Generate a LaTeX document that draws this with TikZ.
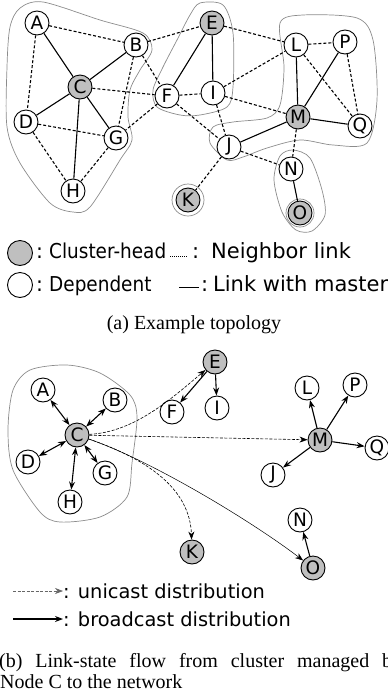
\documentclass[tikz,border=0pt]{standalone}
\usepackage{fontspec}
\setmainfont{Liberation Serif}
\setsansfont{DejaVu Sans}
\usetikzlibrary{arrows.meta}
\begin{document}
\begin{tikzpicture}[x=1pt,y=-1pt,
 nd/.style={circle,draw,line width=0.9pt,minimum size=24pt,inner sep=0pt,fill=white,font=\sffamily\fontsize{18.5}{18.5}\selectfont},
 hd/.style={nd,fill=black!25},
 nb/.style={line width=1.1pt,dash pattern=on 3pt off 2pt},
 ms/.style={line width=1.1pt},
 cl/.style={draw=black!45,line width=0.7pt},
 bc/.style={line width=1.1pt,{Stealth[length=8pt,width=6pt]}-{Stealth[length=8pt,width=6pt]}},
 bo/.style={line width=1.1pt,-{Stealth[length=8pt,width=6pt]}},
 uc/.style={line width=0.6pt,dash pattern=on 3pt off 1.5pt,-{Stealth[length=8pt,width=6pt]}},
 lgA/.style={font=\sffamily\fontsize{20.5}{21}\selectfont,anchor=base west,inner sep=0pt},
 lgB/.style={font=\sffamily\fontsize{21}{22}\selectfont,anchor=base west,inner sep=0pt},
 lg/.style={font=\sffamily\fontsize{19.4}{20}\selectfont,anchor=base west,inner sep=0pt},
 capt/.style={font=\fontsize{20}{22}\selectfont,inner sep=0pt}]
\useasboundingbox (0,0) rectangle (388,694);
\clip (0,0) rectangle (388,694);

% ---------- (a) clusters ----------
\draw[cl] plot[smooth cycle] coordinates {(20,8) (43,2) (100,20) (143,33) (152,50) (140,70) (130,90) (128,117) (132,140) (120,160) (90,207) (73,212) (50,203) (20,163) (7,127) (7,67) (10,27)};
\draw[cl] plot[smooth cycle] coordinates {(200,3) (223,5) (233,33) (233,87) (227,107) (200,115) (180,115) (157,107) (153,90) (163,67) (177,40) (190,15)};
\draw[cl] plot[smooth cycle] coordinates {(280,23) (303,15) (357,18) (373,40) (377,100) (367,143) (333,145) (300,140) (267,148) (243,157) (227,160) (210,143) (213,127) (233,122) (267,118) (280,105) (284,67)};
\draw[cl] plot[smooth cycle] coordinates {(293,150) (310,158) (322,190) (325,215) (312,231) (296,230) (282,212) (274,180) (280,156)};
\draw[cl] (188,200) circle (16);
\draw[cl] (300,213) circle (14);

% ---------- (a) nodes ----------
\node[nd] (tA) at (37,23) {A};
\node[nd] (tB) at (136,45) {B};
\node[hd] (tC) at (80,87) {C};
\node[nd] (tD) at (26,122) {D};
\node[nd] (tG) at (116,138) {G};
\node[nd] (tH) at (73,191) {H};
\node[nd] (tF) at (167,96) {F};
\node[hd] (tK) at (188,200) {K};
\node[hd] (tE) at (212,23) {E};
\node[nd] (tL) at (296,45) {L};
\node[nd] (tP) at (345,42) {P};
\node[nd] (tI) at (213,93) {I};
\node[hd] (tM) at (298,117) {M};
\node[nd] (tQ) at (360,126) {Q};
\node[nd] (tJ) at (229,147) {J};
\node[nd] (tN) at (291,169) {N};
\node[hd] (tO) at (300,213) {O};

% links with master
\foreach \a/\b in {tA/tC,tB/tC,tC/tD,tC/tG,tC/tH,tE/tF,tE/tI,tL/tM,tP/tM,tM/tQ,tJ/tM,tN/tO}
  \draw[ms] (\a) -- (\b);
% neighbor links
\foreach \a/\b in {tA/tB,tA/tD,tB/tG,tB/tF,tC/tF,tD/tG,tD/tH,tG/tH,tF/tG,tB/tE,tE/tL,tF/tI,tF/tJ,tI/tL,tI/tM,tI/tJ,tL/tP,tL/tQ,tP/tQ,tJ/tN,tM/tN,tJ/tK}
  \draw[nb] (\a) -- (\b);

% ---------- (a) legend ----------
\node[hd,minimum size=25pt] (lgH) at (20,253) {};
\node[lgA] (lgC1) at (36,258) {:};
\node[lgA] (lgT1) at (49,258) {\scalebox{0.9}[1]{Cluster-head}};
\coordinate (nbS) at (170,256);
\coordinate (nbE) at (187,256);
\draw[line width=0.7pt,dash pattern=on 1pt off 1pt] (nbS) -- (nbE);
\node[lgB] (lgC2) at (192,258) {:};
\node[lgB] (lgT2) at (211,258) {Neighbor link};
\node[nd,minimum size=25pt] (lgD) at (20,285) {};
\node[lgA] (lgC3) at (36,291) {:};
\node[lgA] (lgT3) at (49,291) {\scalebox{0.9}[1]{Dependent}};
\coordinate (msS) at (179,287);
\coordinate (msE) at (199,287);
\draw[line width=1pt] (msS) -- (msE);
\node[lgB] (lgC4) at (201,291) {:};
\node[lgB] (lgT4) at (213,291) {Link with master};

\node[capt,anchor=base] (capA) at (194,329) {(a) Example topology};

% ---------- (b) ----------
\draw[cl] plot[smooth cycle] coordinates {(30,370) (67,365) (100,373) (130,395) (137,417) (132,463) (127,497) (100,517) (60,522) (40,512) (13,470) (8,430) (13,390)};

\node[nd] (bA) at (43,390) {A};
\node[nd] (bB) at (115,400) {B};
\node[hd] (bC) at (77,435) {C};
\node[nd] (bD) at (28,462) {D};
\node[nd] (bG) at (105,473) {G};
\node[nd] (bH) at (70,502) {H};
\node[hd] (bE) at (215,362) {E};
\node[nd] (bF) at (172,412) {F};
\node[nd] (bI) at (217,408) {I};
\node[nd] (bL) at (307,388) {L};
\node[nd] (bP) at (355,385) {P};
\node[hd] (bM) at (320,440) {M};
\node[nd] (bQ) at (377,448) {Q};
\node[nd] (bJ) at (273,475) {J};
\node[nd] (bN) at (300,520) {N};
\node[hd] (bK) at (192,552) {K};
\node[hd] (bO) at (313,568) {O};

\foreach \b in {bA,bB,bD,bG,bH}
  \draw[bc] (bC) -- (\b);
\foreach \a/\b in {bE/bF,bE/bI,bM/bL,bM/bP,bM/bQ,bM/bJ,bO/bN}
  \draw[bo] (\a) -- (\b);

\draw[uc] (bC) .. controls (135,432) and (172,398) .. (bE);
\draw[uc] (bC) -- (bM);
\draw[uc] (bC) .. controls (150,460) and (190,490) .. (bK);
\draw[line width=0.5pt,-{Stealth[length=8pt,width=6pt]}] (bC) .. controls (150,460) and (250,520) .. (bO);

% ---------- (b) legend ----------
\coordinate (ucS) at (13,591);
\coordinate (ucE) at (63,591);
\draw[uc,draw=black!60] (ucS) -- (ucE);
\node[lg] (lgT5) at (63,598) {: unicast distribution};
\coordinate (boS) at (13,619);
\coordinate (boE) at (63,619);
\draw[bo] (boS) -- (boE);
\node[lg] (lgT6) at (63,626) {: broadcast distribution};

\node[capt,anchor=base west] (capB1) at (-1,667) {\makebox[403pt][s]{(b) Link-state flow from cluster managed by}};
\node[capt,anchor=base west] (capB2) at (0,688) {Node C to the network};
\end{tikzpicture}
\end{document}
